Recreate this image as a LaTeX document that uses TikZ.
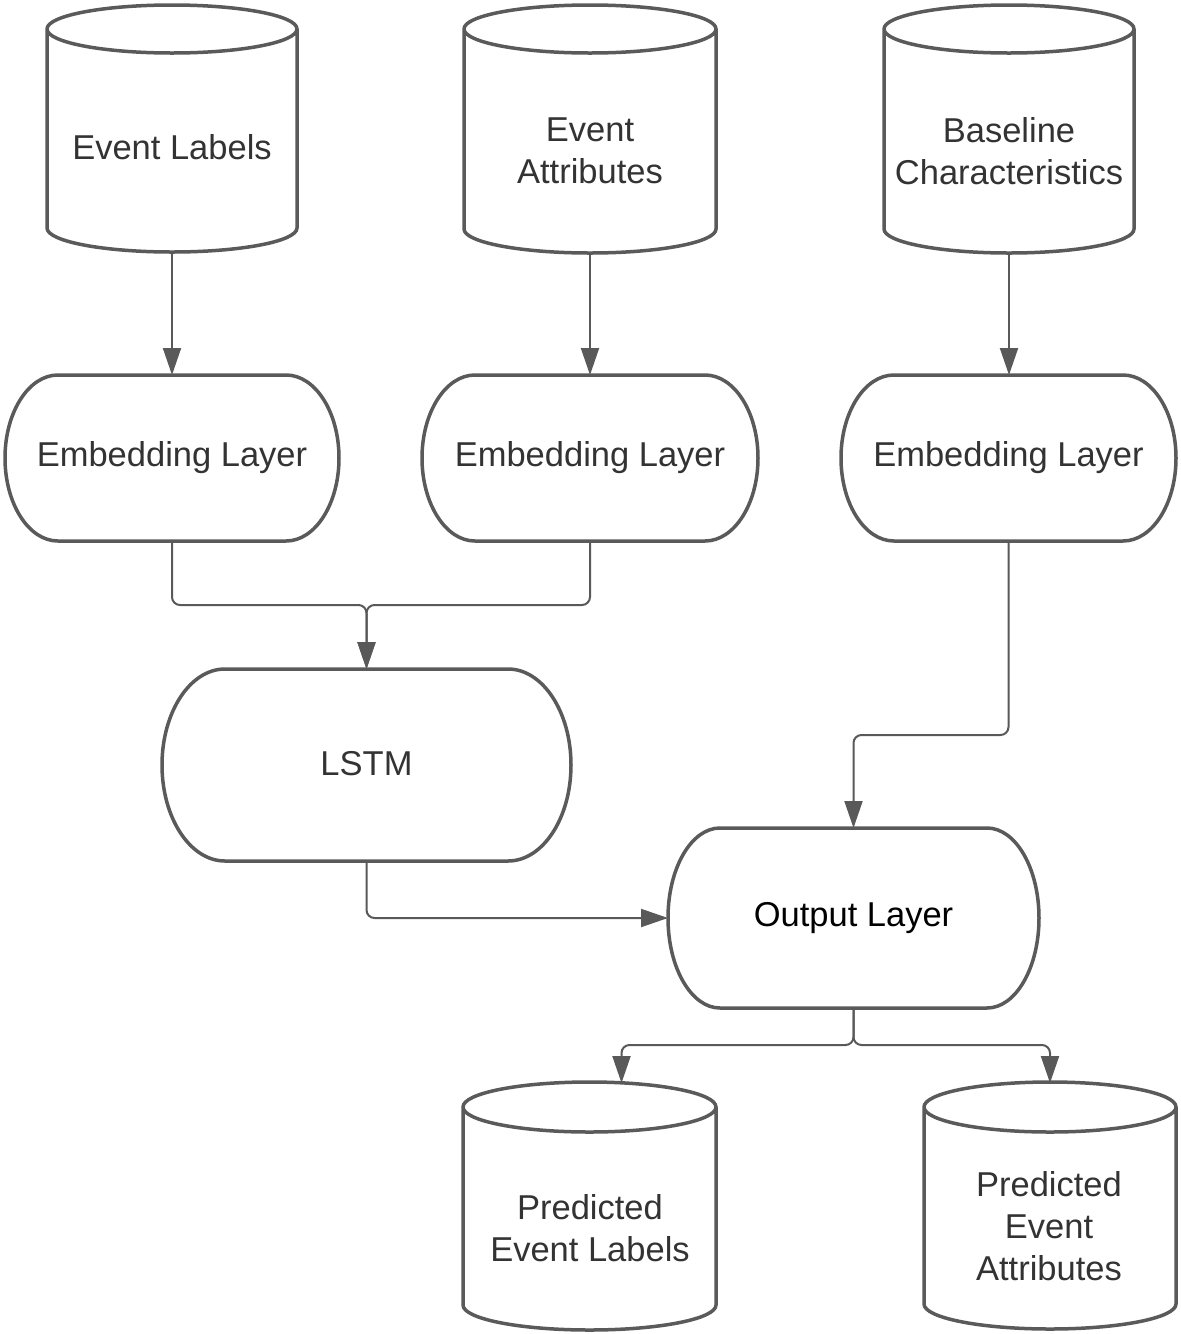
\documentclass[tikz,border=0pt]{standalone}
\usepackage{fontspec}
\setmainfont{Liberation Sans}
\usetikzlibrary{arrows.meta}
\definecolor{shp}{HTML}{5A5A5A}
\definecolor{con}{HTML}{595959}
\definecolor{txt}{HTML}{333333}
\tikzset{
  frame/.style={inner sep=0pt, outer sep=0pt, align=center, font=\fontsize{34.5}{42}\selectfont, text=txt},
  shapeline/.style={draw=shp, line width=3.5pt, fill=white, line join=round},
  conn/.style={draw=con, line width=2pt, rounded corners=8pt, -{Triangle[length=27pt,width=18pt]}},
}
% name, x1, top, x2, bottom, ry
\newcommand\mycyl[6]{%
  \pgfmathsetmacro\rxx{(#4-#2)/2}%
  \pgfmathsetmacro\ww{#4-#2}%
  \pgfmathsetmacro\hh{#5-#3}%
  \draw[shapeline] (#2,-#3-#6) -- (#2,-#5+#6)
     arc[start angle=180,end angle=360,x radius=\rxx,y radius=#6]
     -- (#4,-#3-#6)
     arc[start angle=0,end angle=180,x radius=\rxx,y radius=#6]
     arc[start angle=180,end angle=360,x radius=\rxx,y radius=#6];
  \node[frame, minimum width=\ww pt, minimum height=\hh pt] (#1) at ({(#2+#4)/2},{-(#3+#5)/2}) {};
}
% name, x1, top, x2, bottom, rx, text
\newcommand\layerbox[7]{%
  \pgfmathsetmacro\hhh{(#5-#3)/2}%
  \pgfmathsetmacro\ww{#4-#2}%
  \pgfmathsetmacro\hh{#5-#3}%
  \draw[shapeline] ({#2+#6},-#3) -- ({#4-#6},-#3)
     arc[start angle=90,end angle=-90,x radius=#6,y radius=\hhh]
     -- ({#2+#6},-#5)
     arc[start angle=270,end angle=90,x radius=#6,y radius=\hhh] -- cycle;
  \node[frame, minimum width=\ww pt, minimum height=\hh pt] (#1) at ({(#2+#4)/2},{-(#3+#5)/2}) {#7};
}
\begin{document}
\begin{tikzpicture}[x=1pt,y=1pt]
  \useasboundingbox[fill=white] (0,0) rectangle (1181,-1334);

  % input cylinders
  \mycyl{c1}{47}{5}{297}{252}{24}
  \mycyl{c2}{464}{5}{716}{253}{24}
  \mycyl{c3}{884}{5}{1134}{253}{24}
  \node[frame] (t1) at (172,-147) {Event Labels};
  \node[frame] (t2) at (590,-151) {Event\\Attributes};
  \node[frame] (t3) at (1009,-151) {Baseline\\Characteristics};

  % embedding layers
  \layerbox{e1}{5}{375}{339}{541}{53}{\raisebox{-3pt}{Embedding Layer}}
  \layerbox{e2}{422}{375}{758}{541}{53}{\raisebox{-3pt}{Embedding Layer}}
  \layerbox{e3}{841}{375}{1176}{541}{53}{\raisebox{-3pt}{Embedding Layer}}

  % LSTM and output
  \layerbox{lstm}{162}{669}{571}{861}{63}{\raisebox{4pt}{LSTM}}
  \layerbox{out}{668}{828}{1039}{1008}{52}{\textcolor{black}{Output Layer}}

  % output cylinders
  \mycyl{p1}{463}{1082}{716}{1330}{25}
  \mycyl{p2}{924}{1082}{1176}{1329}{25}
  \node[frame] (t4) at (590,-1228) {Predicted\\Event Labels};
  \node[frame] (t5) at (1049,-1226) {Predicted\\Event\\Attributes};

  % connectors
  \draw[conn] (c1.south) -- (c1.south |- e1.north);
  \draw[conn] (c2.south) -- (c2.south |- e2.north);
  \draw[conn] (c3.south) -- (c3.south |- e3.north);
  \draw[conn] (e1.south) -- ++(0,-64) -| (lstm.north);
  \draw[conn] (e2.south) -- ++(0,-64) -| (lstm.north);
  \draw[conn] (e3.south) -- ++(0,-194) -| (out.north);
  \draw[conn] (lstm.south) |- (out.west);
  \draw[conn] (out.south) -- ++(0,-37) -| ([xshift=32pt,yshift=-1pt]p1.north);
  \draw[conn] (out.south) -- ++(0,-37) -| ([yshift=-1pt]p2.north);
\end{tikzpicture}
\end{document}
